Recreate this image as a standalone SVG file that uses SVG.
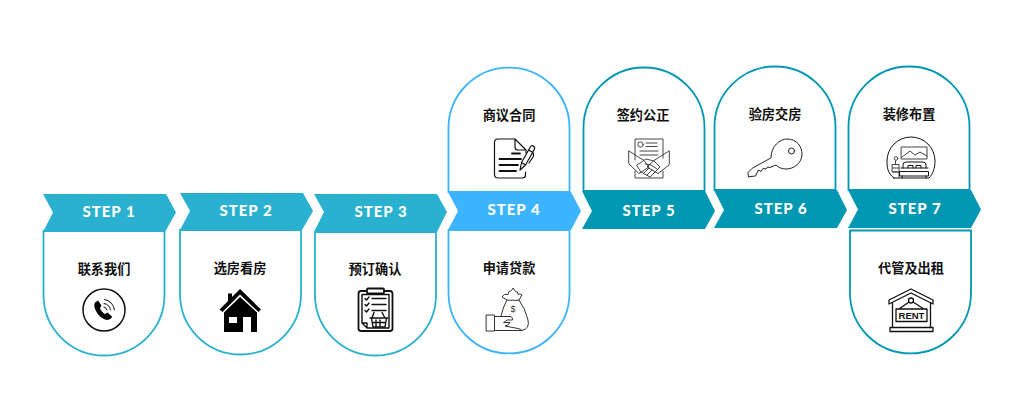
<svg xmlns="http://www.w3.org/2000/svg" width="1024" height="415" viewBox="0 0 1024 415">
<style>
.card{fill:#fff;stroke-width:1.8}
.c1{stroke:#29b1cf}.c2{stroke:#3cb4ff}.c3{stroke:#0097b2}
.b1{fill:#29b1cf}.b2{fill:#3cb4ff}.b3{fill:#0097b2}
.step{font-family:"Lato","Liberation Sans",sans-serif;font-weight:900;font-size:15px;letter-spacing:1px;fill:#fff;text-anchor:middle}
.lbl{font-family:"Noto Sans CJK SC","Noto Sans",sans-serif;font-weight:700;font-size:13.2px;fill:#111;text-anchor:middle}
.i{fill:none;stroke:#111;stroke-width:1;stroke-linejoin:round;stroke-linecap:round}
.t{stroke-width:1.8}
.k{fill:#000;stroke:none}
</style>
<rect width="1024" height="415" fill="#fff"/>
<g id="step-1">
<path class="card c1" d="M43.500 231V295A60.500 60.500 0 0 0 164.500 295V231Z"/>
<path class="b1" d="M43 194H166L176 212.500L165 232H43L53 212.500Z"/>
<text class="step" x="109" y="217">STEP 1</text>
<text class="lbl" x="104" y="274">联系我们</text>
<circle class="i" style="stroke-width:1.5" cx="104" cy="310" r="21"/>
<path class="k" d="M95 302.500C94 304 94 307 95.500 310C97.500 314.500 101 318 105 319.500C107.500 320.500 110 319.500 111.500 318L112 316.500L107.500 312.500L105 314C103 313 100.500 310 100 308L101.500 305.500L98 300.500Z"/>
<path class="i" d="M104 303.500A7.500 7.500 0 0 1 110.500 310M104.500 299.500A11.500 11.500 0 0 1 114.500 310M104 307A4 4 0 0 1 107 310"/>
</g>
<g id="step-2">
<path class="card c1" d="M180 230V294A60.500 60.500 0 0 0 301 294V230Z"/>
<path class="b1" d="M180 193H303L313 211L302 230H180L190 211Z"/>
<text class="step" x="246" y="215.500">STEP 2</text>
<text class="lbl" x="240" y="273">选房看房</text>
<path class="k" fill-rule="evenodd" d="M224 312.500L240 297L257 312.500V332H251V317H243V332H224ZM229 317V323H237V317Z"/>
<path class="k" d="M240 289L261 309.500L258.500 312L240 294.500L222.500 312L219.500 309.500L228 301V293.500H232V297Z"/>
</g>
<g id="step-3">
<path class="card c1" d="M315 232V295A60.500 60.500 0 0 0 436 295V232Z"/>
<path class="b1" d="M314 194H437L447 212L437 232H314L324 212Z"/>
<text class="step" x="381" y="217">STEP 3</text>
<text class="lbl" x="375" y="274">预订确认</text>
<path class="i t" d="M366 291H361Q358.500 291 358.500 294V328.500Q358.500 331 361 331H390Q392.500 331 392.500 328.500V294Q392.500 291 390 291H385"/>
<rect class="i t" x="367" y="288.500" width="17" height="5" rx="1"/>
<path class="i" style="stroke-width:1.400" d="M362 294.500H389V328H367L362 323ZM362 323H367V328"/>
<path class="i" style="stroke-width:1.400" d="M365 298.500L366.500 300L369 297M365 304.500L366.500 306L369 303M365 310.500L366.500 312L369 309M372 298.500H386M372 304.500H386M372 310.500H386M374 312.500L372 318M382 312.500L385 318M370 318H388M371.500 318L373 327H385L386.500 318M376 320V326M380 320V326M372 322.500H386"/>
</g>
<g id="step-4">
<path class="card c2" d="M448.500 192V128A60.500 60.500 0 0 1 569.500 128V192Z"/>
<path class="card c2" d="M448.500 230V293A60.500 60.500 0 0 0 569.500 293V230Z"/>
<path class="b2" d="M448 192H571L581 211L571 230H448L458 211Z"/>
<text class="step" x="514" y="215">STEP 4</text>
<text class="lbl" x="509" y="120">商议合同</text>
<text class="lbl" x="509" y="273">申请贷款</text>
<g>
<path class="i" style="stroke-width:1.200" d="M515 139H498Q494.500 139 494.500 142.500V174.500Q494.500 178 498 178H522.500Q525.500 178 525.500 175V172M515 139L526 150V153M515 139V147Q515 150 518 150H526"/>
<path class="i t" d="M512 153.500H520M499.500 159H521M499.500 165H518M499.500 171H516"/>
<path class="i" style="stroke-width:1.200" d="M520 170L521.500 162.500L530 147.500Q531.500 145 533.500 146Q535.500 147.200 534 150L525.500 165ZM520 170L525.500 165M521.500 162.500L525.500 165M528.500 150L533 152.500M532.500 152.500Q534.500 154 533 157L529 163"/>
</g>
<g>
<path class="i" style="stroke:#333" d="M486.500 315H494.500V331H486.500ZM494.500 316.500H511Q513 318 512.500 320H507Q505 322 503.500 322.500L510 322.500Q508 326 505 326L518 328.500Q521 329 522 330.500H494.500"/>
<path class="i" style="stroke:#333" d="M507 300L502 297Q504 293 508 294.500Q508 291 510.500 291Q512.500 290 513 288Q514.500 290 515.500 291.500Q518 291 518 294.500Q520 293 522 295L519 300ZM507 300Q502.500 308 501 316M519 300Q525 308 528 320Q530 329 522 330.500"/>
<text x="513" y="312" font-family="Liberation Sans,sans-serif" font-size="9" fill="#333" text-anchor="middle">$</text>
</g>
</g>
<g id="step-5">
<path class="card c3" d="M583.500 191V128A60.500 60.500 0 0 1 704.500 128V191Z"/>
<path class="b3" d="M582 191H705L715 211L705 229H582L592 211Z"/>
<text class="step" x="649" y="215.500">STEP 5</text>
<text class="lbl" x="643" y="120">签约公正</text>
<g class="i" style="stroke:#444">
<path d="M635 160V139H663V158M635 171V178H663V171"/>
<circle cx="640.500" cy="144.500" r="2.700"/>
<path d="M646 143H657M646 146.500H657M640 151H658M640 155H658"/>
<path d="M629 151L644 160.500L649 167L639 173.500L629 164ZM669 151L654 160.500L647 167L658 173.500L669 165Z"/>
<path d="M637 165L646 159L654 161L660 167L650 177L641 172ZM645 164L651 165L657 169M644 173L649 168M647 175L652 170"/>
</g>
</g>
<g id="step-6">
<path class="card c3" d="M714.500 190V127A60.500 60.500 0 0 1 835.500 127V190Z"/>
<path class="b3" d="M714 190H837L847 210L837 228H714L724 210Z"/>
<text class="step" x="781" y="213.500">STEP 6</text>
<text class="lbl" x="775" y="119">验房交房</text>
<path class="i" style="stroke:#2a1f1f" d="M771 157.500C771 146 780 139 787 139C797 139 802 147 802 154C802 163 794 169 786 169C781 169 778 167 776 165L770 167.500L767.500 167L766 169L763 168.500L761 171.500L758.500 170L755.500 176L751 176.500L748.500 177L748 172.500L752 168.500Z"/>
<circle class="i" style="stroke:#2a1f1f" cx="791.500" cy="151" r="3"/>
</g>
<g id="step-7">
<path class="card c3" d="M848.500 190V127A60.500 60.500 0 0 1 969.500 127V190Z"/>
<path class="card c3" d="M850 230.500V293A60.500 60.500 0 0 0 971 293V230.500Z"/>
<path class="b3" d="M848 190H971L981 209.500L971 228H848L858 209.500Z"/>
<text class="step" x="915" y="214">STEP 7</text>
<text class="lbl" x="909" y="119">装修布置</text>
<text class="lbl" x="911" y="273">代管及出租</text>
<g class="i">
<path d="M894 178C887 173 887 166 887 161A24 24 0 0 1 935 161C935 168 933 174 929 178H894Z"/>
<path style="stroke:#444" d="M901.500 147H927V159H901.500ZM902 157L910 151L915 155L920 152L927 156"/>
<path style="stroke:#444" d="M892.500 164.500H899V172H892.500ZM892.500 168H899M893 172H899V177M895.500 164.500V161"/>
<circle style="stroke:#444" cx="896" cy="158.500" r="1.800"/>
<path d="M901 168H928M900 171.500H928.500V176H900ZM902 176V178M926 176V178M903 168V165Q903 162 906 162H923Q926 162 926 165V168M908 168V165.500H913V168M916 168V165.500H921V168"/>
</g>
<g class="i" style="stroke-width:1.300">
<path d="M889 304V300L911 289L933 300V304L911 293ZM892.500 302.500V327M930.500 302.500V327M890 327.500H933V331.500H890Z"/>
<circle cx="911" cy="300.500" r="2.500"/>
<path d="M909 302L899 309M913 302L924 309M896 309H927V321.500H896Z"/>
</g>
<text x="911.500" y="318.700" font-family="Liberation Sans,sans-serif" font-size="9.500" font-weight="700" fill="#111" text-anchor="middle">RENT</text>
</g>
<g id="connectors"/>
</svg>
